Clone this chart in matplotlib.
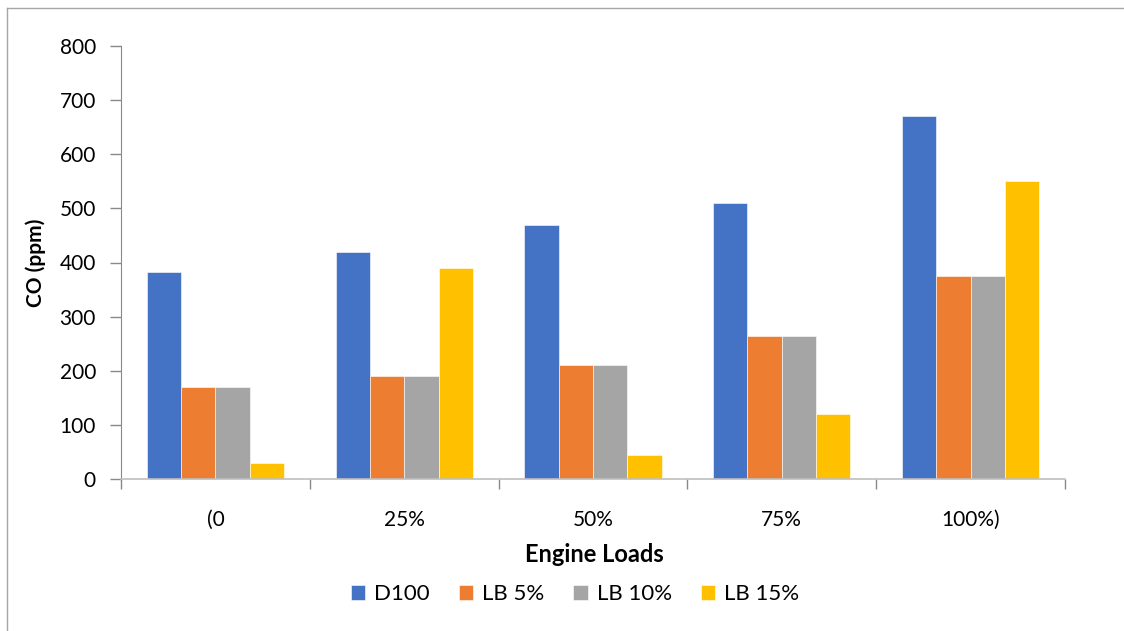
import matplotlib.pyplot as plt
import numpy as np
from matplotlib.lines import Line2D

plt.rcParams['font.family'] = ['Lato', 'DejaVu Sans']

# CO emission at each engine load
loads = ["(0", "25%", "50%", "75%", "100%)"]
series_names = ["D100", "LB 5%", "LB 10%", "LB 15%"]
d100 = [383, 420, 470, 510, 670]
lb5 = [170, 190, 210, 265, 375]
lb10 = [170, 190, 210, 265, 375]
lb15 = [30, 390, 45, 120, 550]
colors = ["#4472C4", "#ED7D31", "#A5A5A5", "#FFC000"]

fig = plt.figure(figsize=(11.24, 6.31), dpi=100)
ax = fig.add_axes([121 / 1124, 1 - 479 / 631, (1065 - 121) / 1124, (479 - 46) / 631])

x = np.arange(len(loads))
width = 1 / 5.5
for i, (vals, name) in enumerate(zip([d100, lb5, lb10, lb15], series_names)):
    offset = (i - 1.5) * width
    ax.bar(x + offset, vals, width, color=colors[i], label=name,
           edgecolor="white", linewidth=0.4)

ax.set_xlim(-0.5, len(loads) - 0.5)
ax.set_ylim(0, 800)
ax.set_yticks(np.arange(0, 801, 100))

# category labels sit between the boundary ticks
ax.set_xticks(np.arange(-0.5, len(loads), 1))
ax.set_xticklabels([])
ax.set_xticks(x, minor=True)
ax.set_xticklabels(loads, minor=True, fontsize=15)
ax.tick_params(axis="x", which="minor", length=0, pad=22)
ax.tick_params(axis="x", which="major", length=7, color="#898989", width=1)
ax.tick_params(axis="y", length=8, color="#898989", width=1, labelsize=15, pad=10)

for side in ["top", "right"]:
    ax.spines[side].set_visible(False)
ax.spines["left"].set_color("#898989")
ax.spines["bottom"].set_color("#BFBFBF")
ax.spines["bottom"].set_linewidth(1.2)

ax.set_ylabel("CO (ppm)", fontsize=15, fontweight="bold", labelpad=10)
fig.text(594 / 1124, 1 - 555 / 631, "Engine Loads", fontsize=17,
         fontweight="bold", ha="center", va="center")

fig.legend(loc="center", bbox_to_anchor=(575 / 1124, 1 - 594 / 631), ncol=4,
           frameon=False, fontsize=16, handlelength=0.65, handleheight=0.65,
           handletextpad=0.4, columnspacing=1.3)

# outer frame of the chart area
fig.add_artist(Line2D([7 / 1124, 7 / 1124], [0, 1 - 8 / 631],
                      transform=fig.transFigure, color="#A6A6A6", linewidth=1))
fig.add_artist(Line2D([7 / 1124, 1], [1 - 8 / 631, 1 - 8 / 631],
                      transform=fig.transFigure, color="#A6A6A6", linewidth=1))

fig.savefig("out.png", dpi=100)
